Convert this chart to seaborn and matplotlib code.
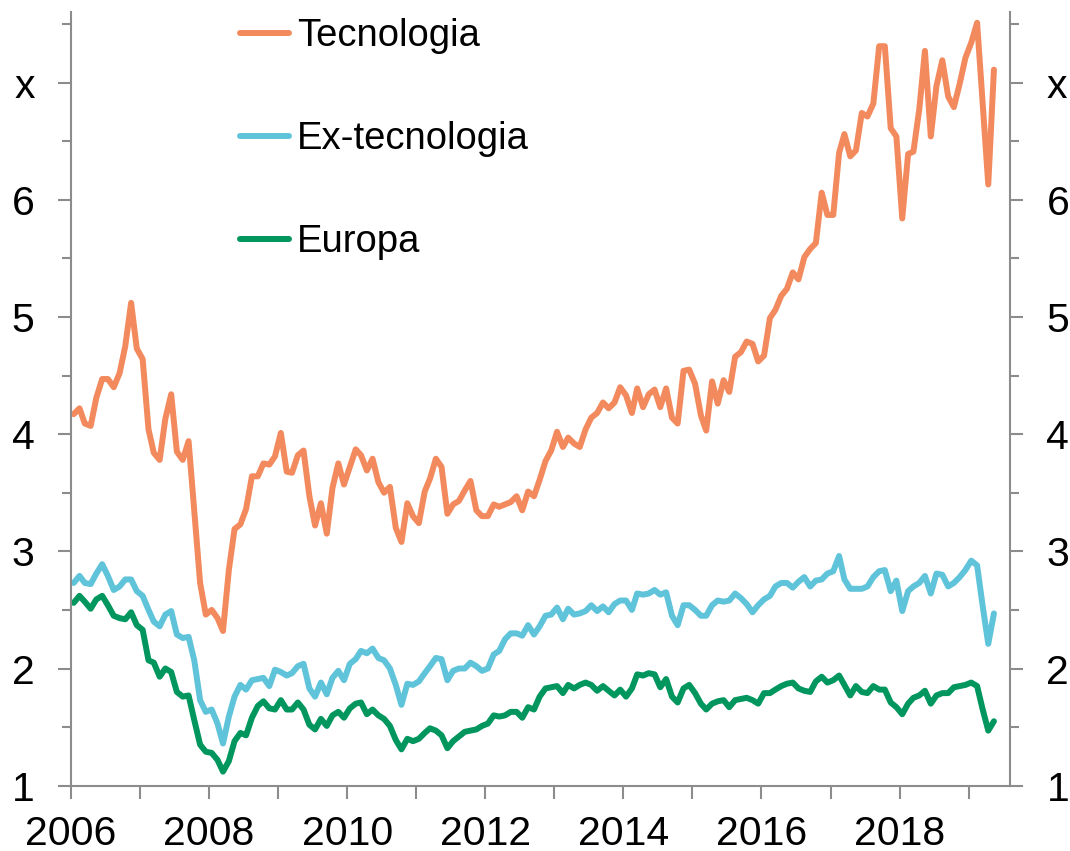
import matplotlib
matplotlib.use("Agg")
import matplotlib.pyplot as plt
import matplotlib.dates as mdates
from matplotlib.ticker import MultipleLocator, FixedLocator, FuncFormatter
import seaborn as sns
import pandas as pd

# monthly observations, Jan 2006 - May 2019
dates = pd.date_range("2006-01-01", "2019-05-01", freq="MS") + pd.Timedelta(days=14)

tecnologia = [
    4.17, 4.22, 4.09, 4.07, 4.31, 4.47, 4.47, 4.40, 4.52, 4.75, 5.12, 4.73,
    4.64, 4.04, 3.84, 3.78, 4.13, 4.34, 3.85, 3.78, 3.94, 3.35, 2.73, 2.46,
    2.50, 2.43, 2.32, 2.84, 3.19, 3.23, 3.36, 3.64, 3.64, 3.75, 3.74, 3.81,
    4.01, 3.68, 3.67, 3.82, 3.86, 3.47, 3.22, 3.41, 3.15, 3.54, 3.75, 3.57,
    3.72, 3.87, 3.82, 3.69, 3.79, 3.59, 3.50, 3.55, 3.20, 3.08, 3.41, 3.30,
    3.24, 3.51, 3.62, 3.79, 3.72, 3.32, 3.40, 3.43, 3.52, 3.60, 3.35, 3.30,
    3.30, 3.40, 3.38, 3.40, 3.42, 3.47, 3.35, 3.51, 3.47, 3.61, 3.77, 3.86,
    4.02, 3.89, 3.97, 3.92, 3.89, 4.04, 4.14, 4.18, 4.27, 4.22, 4.27, 4.40,
    4.33, 4.18, 4.39, 4.23, 4.34, 4.38, 4.23, 4.39, 4.14, 4.09, 4.54, 4.55,
    4.43, 4.16, 4.03, 4.45, 4.26, 4.46, 4.36, 4.66, 4.70, 4.79, 4.77, 4.62,
    4.67, 4.99, 5.06, 5.18, 5.24, 5.38, 5.32, 5.51, 5.58, 5.63, 6.06, 5.87,
    5.87, 6.40, 6.56, 6.37, 6.42, 6.74, 6.71, 6.82, 7.31, 7.31, 6.61, 6.54,
    5.84, 6.39, 6.41, 6.77, 7.27, 6.54, 6.97, 7.19, 6.88, 6.79, 6.99, 7.21,
    7.34, 7.51, 6.85, 6.13, 7.11,
]

ex_tecnologia = [
    2.73, 2.79, 2.73, 2.72, 2.81, 2.89, 2.79, 2.67, 2.70, 2.76, 2.76, 2.66,
    2.62, 2.50, 2.40, 2.36, 2.46, 2.49, 2.29, 2.26, 2.27, 2.07, 1.73, 1.63,
    1.65, 1.53, 1.36, 1.59, 1.76, 1.86, 1.82, 1.90, 1.91, 1.92, 1.85, 1.99,
    1.97, 1.94, 1.96, 2.02, 2.04, 1.83, 1.76, 1.88, 1.78, 1.92, 1.98, 1.90,
    2.04, 2.08, 2.15, 2.13, 2.17, 2.09, 2.07, 2.00, 1.86, 1.69, 1.87, 1.86,
    1.89, 1.96, 2.02, 2.09, 2.08, 1.90, 1.98, 2.00, 2.00, 2.05, 2.02, 1.98,
    2.00, 2.12, 2.15, 2.25, 2.30, 2.30, 2.28, 2.37, 2.29, 2.36, 2.45, 2.46,
    2.52, 2.42, 2.51, 2.46, 2.47, 2.49, 2.54, 2.49, 2.53, 2.48, 2.55, 2.58,
    2.58, 2.50, 2.64, 2.63, 2.64, 2.67, 2.63, 2.65, 2.45, 2.37, 2.54, 2.54,
    2.50, 2.45, 2.45, 2.54, 2.58, 2.57, 2.58, 2.64, 2.60, 2.55, 2.48, 2.54,
    2.59, 2.62, 2.70, 2.73, 2.73, 2.69, 2.74, 2.78, 2.70, 2.75, 2.76, 2.81,
    2.83, 2.96, 2.76, 2.68, 2.68, 2.68, 2.70, 2.78, 2.83, 2.84, 2.66, 2.75,
    2.49, 2.66, 2.70, 2.73, 2.79, 2.64, 2.81, 2.80, 2.70, 2.73, 2.78, 2.84,
    2.92, 2.88, 2.55, 2.21, 2.47,
]

europa = [
    2.56, 2.62, 2.57, 2.51, 2.59, 2.62, 2.54, 2.45, 2.43, 2.42, 2.48, 2.37,
    2.33, 2.07, 2.05, 1.93, 2.00, 1.97, 1.80, 1.76, 1.77, 1.56, 1.35, 1.29,
    1.28, 1.22, 1.12, 1.21, 1.38, 1.45, 1.43, 1.58, 1.68, 1.72, 1.66, 1.65,
    1.73, 1.65, 1.65, 1.71, 1.65, 1.52, 1.48, 1.57, 1.51, 1.60, 1.63, 1.58,
    1.66, 1.70, 1.71, 1.61, 1.65, 1.60, 1.57, 1.51, 1.39, 1.31, 1.40, 1.38,
    1.40, 1.45, 1.49, 1.47, 1.43, 1.32, 1.38, 1.42, 1.46, 1.47, 1.48, 1.51,
    1.53, 1.60, 1.59, 1.60, 1.63, 1.63, 1.58, 1.67, 1.65, 1.76, 1.83, 1.84,
    1.85, 1.79, 1.86, 1.83, 1.86, 1.88, 1.86, 1.81, 1.85, 1.81, 1.77, 1.82,
    1.76, 1.83, 1.95, 1.94, 1.96, 1.95, 1.84, 1.91, 1.76, 1.71, 1.83, 1.86,
    1.79, 1.70, 1.65, 1.70, 1.72, 1.73, 1.67, 1.73, 1.74, 1.75, 1.73, 1.70,
    1.79, 1.79, 1.82, 1.85, 1.87, 1.88, 1.83, 1.81, 1.80, 1.89, 1.93, 1.88,
    1.90, 1.94, 1.86, 1.77, 1.85, 1.80, 1.79, 1.85, 1.82, 1.82, 1.71, 1.67,
    1.61, 1.70, 1.75, 1.77, 1.81, 1.70, 1.77, 1.79, 1.79, 1.84, 1.85, 1.86,
    1.88, 1.85, 1.66, 1.47, 1.55,
]

series_names = ["Tecnologia", "Ex-tecnologia", "Europa"]
colors = ["#F28A5E", "#5FC3DA", "#00965E"]
ytick_labels = ["1", "2", "3", "4", "5", "6", "x"]

sns.set_theme(style="white")
plt.rcParams["font.family"] = ["Liberation Sans", "DejaVu Sans"]
gray = "#8C8C8C"

fig = plt.figure(figsize=(10.7, 8.51), dpi=100)
ax = fig.add_axes([71 / 1070, 65.3 / 851, 939 / 1070, 773.5 / 851])

for name, vals, c in zip(series_names, [tecnologia, ex_tecnologia, europa], colors):
    sns.lineplot(x=dates, y=vals, color=c, label=name, linewidth=4.3, ax=ax,
                 solid_joinstyle="round", solid_capstyle="round")

ax.set_xlim(pd.Timestamp("2006-01-01"), pd.Timestamp("2019-08-08"))
ax.set_ylim(1, 7.6)
ax.set_xlabel("")
ax.set_ylabel("")

# y axis: labels at integers both sides, minor ticks at halves
ax.yaxis.set_major_locator(FixedLocator(range(1, 8)))
ax.set_yticklabels(ytick_labels)
ax.yaxis.set_minor_locator(MultipleLocator(0.5))
ax.tick_params(axis="y", which="both", direction="out", left=True, right=True,
               labelleft=True, labelright=True, colors=gray, width=1.5,
               labelcolor="black", labelsize=29.5, pad=17)
ax.tick_params(axis="y", which="major", length=9.2)
ax.tick_params(axis="y", which="minor", length=6.7)

# x axis: tick every year, label every other year
ax.xaxis.set_major_locator(mdates.YearLocator(1))
ax.xaxis.set_major_formatter(FuncFormatter(
    lambda v, pos: str(mdates.num2date(v).year) if mdates.num2date(v).year % 2 == 0 else ""))
ax.tick_params(axis="x", which="major", direction="out", bottom=True, length=9.2,
               width=1.5, colors=gray, labelcolor="black", labelsize=29.5, pad=12)

for side in ["left", "right", "bottom"]:
    ax.spines[side].set_color(gray)
    ax.spines[side].set_linewidth(1.5)
ax.spines["top"].set_visible(False)

leg = ax.legend(loc="upper left", bbox_to_anchor=(240 / 1070, (851 - 18) / 851),
                bbox_transform=fig.transFigure, frameon=False, fontsize=27.5,
                handlelength=1.28, handletextpad=0.22, labelspacing=1.76,
                borderpad=0, borderaxespad=0)
for h in leg.get_lines():
    h.set_linewidth(4.3)
    h.set_solid_capstyle("round")
for t in leg.get_texts():
    t.set_color("black")

fig.savefig("out.png", dpi=100)
